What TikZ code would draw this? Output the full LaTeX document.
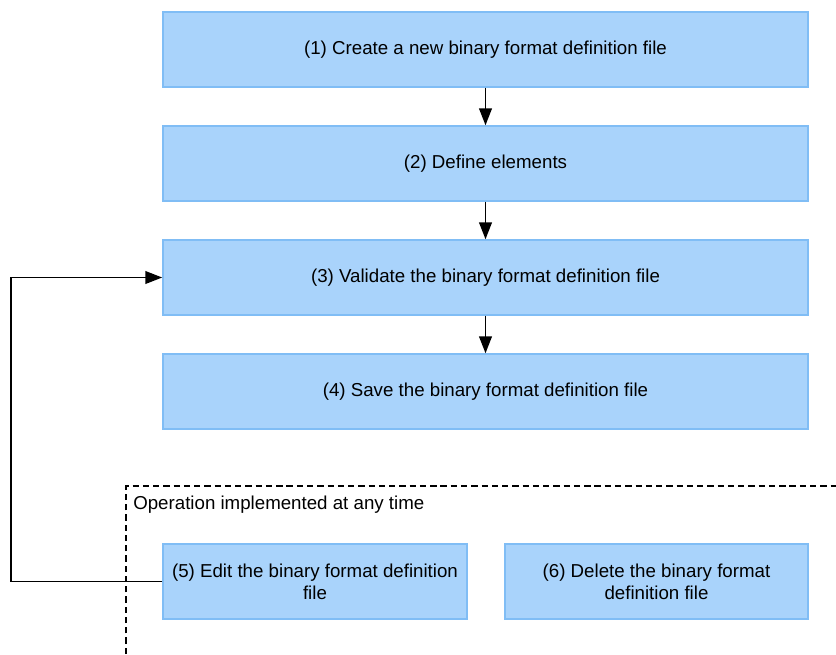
\documentclass[tikz,border=0pt]{standalone}
\usepackage{fontspec}
\setmainfont{Liberation Sans}
\usepackage{xcolor}
\usetikzlibrary{positioning,arrows.meta}
\definecolor{stepfill}{RGB}{169,211,251}
\definecolor{stepline}{RGB}{128,189,245}

\begin{document}
\begin{tikzpicture}[
  x=0.025cm, y=-0.025cm,
  font=\fontsize{13.3}{15.8}\selectfont,
  box/.style={draw=stepline, fill=stepfill, line width=1pt, align=center, inner sep=2pt, minimum height=1.875cm},
  arr/.style={-{Triangle[length=12pt,width=9pt]}, line width=1.3pt}]
\useasboundingbox (0,0) rectangle (836,654);
\node[box, minimum width=16.125cm] (create) at (485.5,49.5) {(1) Create a new binary format definition file};
\node[box, minimum width=16.125cm] (define) at (485.5,163.5) {(2) Define elements};
\node[box, minimum width=16.125cm] (validate) at (485.5,277.5) {(3) Validate the binary format definition file};
\node[box, minimum width=16.125cm] (save) at (485.5,391.5) {(4) Save the binary format definition file};
\node[box, minimum width=7.6cm] (edit) at (315,581.5) {(5) Edit the binary format definition\\file};
\node[box, minimum width=7.575cm] (delete) at (656.5,581.5) {(6) Delete the binary format\\definition file};
% operations that can be done at any time
\draw[line width=1pt, dash pattern=on 4.5pt off 2.8pt] (126,654) |- (836,486);
\node[anchor=west, inner sep=0pt] (anytime) at (133,505) {Operation implemented at any time};
\draw[arr] (create) -- (define);
\draw[arr] (define) -- (validate);
\draw[arr] (validate) -- (save);
\draw[arr] (edit.west) -- ++(-151,0) |- (validate.west);
\end{tikzpicture}
\end{document}
